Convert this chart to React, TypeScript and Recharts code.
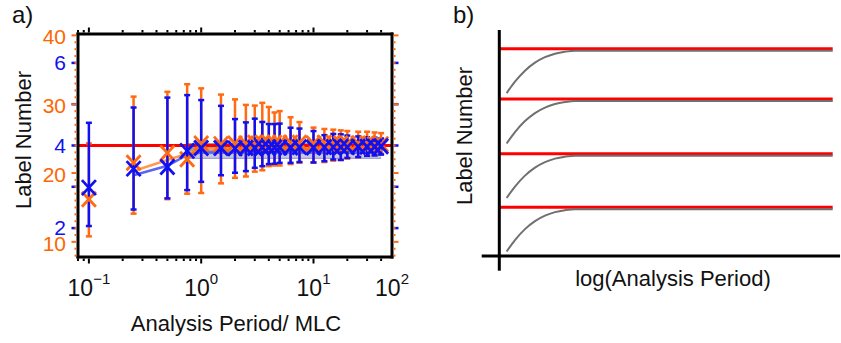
import {
  ComposedChart,
  Scatter,
  ErrorBar,
  Area,
  Line,
  XAxis,
  YAxis,
  ReferenceLine,
} from "recharts";

const FONT = '"Liberation Sans", Arial, Helvetica, sans-serif';
const ORANGE = "#ff6a13";
const ORANGE_TXT = "#ff6600";
const BLUE = "#1010f0";
const RED = "#ff0000";
const INK = "#111";

// ---------- panel a data ----------
const PERIODS = [0.1, 0.25, 0.5, 0.75, 1, 1.5, 2, 2.5, 3, 3.5, 4, 4.5, 5, 6.25, 7.5, 10, 12.5, 15, 17.5, 20, 25, 30, 35, 40];

// orange series (outer scale, 10..40)
const ORANGE_MEAN = [16.2, 21.5, 22.9, 22.0, 24.3, 24.2, 24.3, 24.3, 24.4, 24.4, 24.4, 24.4, 24.4, 24.4, 24.4, 24.3, 24.4, 24.4, 24.3, 24.3, 24.3, 24.3, 24.2, 24.2];
const ORANGE_LOW = [10.8, 14.1, 16.2, 17.0, 17.1, 18.5, 19.3, 19.5, 20.2, 20.4, 21.0, 21.1, 21.1, 21.3, 21.5, 21.5, 21.6, 21.8, 21.9, 22.1, 22.3, 22.5, 22.6, 22.8];
const ORANGE_HIGH = [24.3, 31.1, 31.8, 32.9, 32.3, 31.4, 30.7, 29.9, 29.8, 30.2, 29.6, 28.8, 29.0, 28.1, 27.4, 26.6, 26.4, 26.3, 26.2, 26.1, 26.0, 26.0, 25.9, 25.8];
const ORANGE_TREND = [null, 20.3, 21.9, 22.8, 23.5, 23.5, 23.5, 23.5, 23.5, 23.5, 23.5, 23.5, 23.5, 23.5, 23.5, 23.5, 23.5, 23.5, 23.5, 23.5, 23.5, 23.5, 23.5, 23.5];

// blue series (inner scale, 2..6)
const BLUE_MEAN = [2.98, 3.44, 3.48, 3.87, 3.94, 3.94, 3.93, 3.94, 3.94, 3.95, 3.95, 3.95, 3.95, 3.95, 3.96, 3.95, 3.96, 3.96, 3.96, 3.96, 3.97, 3.97, 3.97, 3.98];
const BLUE_LOW = [2.05, 2.45, 2.72, 2.92, 3.12, 3.28, 3.34, 3.38, 3.46, 3.5, 3.55, 3.56, 3.58, 3.58, 3.6, 3.59, 3.62, 3.66, 3.65, 3.7, 3.72, 3.75, 3.76, 3.78];
const BLUE_HIGH = [4.55, 4.92, 5.16, 5.22, 5.1, 4.96, 4.64, 4.56, 4.65, 4.57, 4.52, 4.52, 4.53, 4.43, 4.41, 4.35, 4.25, 4.28, 4.27, 4.24, 4.22, 4.2, 4.19, 4.17];
const BLUE_TREND = [null, 3.28, 3.51, 3.77, 3.83, 3.83, 3.83, 3.83, 3.83, 3.83, 3.83, 3.83, 3.83, 3.83, 3.83, 3.83, 3.83, 3.83, 3.83, 3.83, 3.83, 3.83, 3.83, 3.83];

// shaded bands (blue scale)
const BAND_DARK_LOW = [null, null, null, 3.8, 3.8, 3.8, 3.8, 3.8, 3.8, 3.8, 3.8, 3.8, 3.8, 3.8, 3.8, 3.8, 3.8, 3.8, 3.8, 3.8, 3.8, 3.8, 3.8, 3.8];
const BAND_DARK_HIGH = [null, null, null, 4.06, 4.06, 4.06, 4.06, 4.06, 4.06, 4.06, 4.06, 4.06, 4.06, 4.06, 4.06, 4.06, 4.06, 4.06, 4.06, 4.06, 4.06, 4.06, 4.06, 4.06];
const BAND_LIGHT_LOW = [null, null, null, 3.69, 3.69, 3.69, 3.69, 3.69, 3.69, 3.69, 3.69, 3.69, 3.69, 3.69, 3.69, 3.69, 3.69, 3.69, 3.69, 3.69, 3.69, 3.69, 3.69, 3.69];
const BAND_LIGHT_HIGH = [null, null, null, 3.83, 3.83, 3.83, 3.83, 3.83, 3.83, 3.83, 3.83, 3.83, 3.83, 3.83, 3.83, 3.83, 3.83, 3.83, 3.83, 3.83, 3.83, 3.83, 3.83, 3.83];

const TARGET = 4;

// axes
const X_DOMAIN = [0.08, 50];
const X_MAJOR = [0.1, 1, 10];
const X_MINOR = [0.08, 0.09, 0.2, 0.3, 0.4, 0.5, 0.6, 0.7, 0.8, 0.9, 2, 3, 4, 5, 6, 7, 8, 9, 20, 30, 40];
const X_LABEL_AT = [0.1, 1, 10, 50];
const X_LABEL_EXP = ["\u22121", "0", "1", "2"];
const X_TICKS = [...X_MINOR, ...X_MAJOR, 50].sort((a, b) => a - b);

const BLUE_DOMAIN = [1.3, 6.7];
const BLUE_TICKS = [2, 3, 4, 5, 6];
const BLUE_LABELS = [2, 4, 6];

const ORANGE_DOMAIN = [7.8, 40.2];
const ORANGE_TICKS = [8, 9, 10, 11, 12, 13, 14, 15, 16, 17, 18, 19, 20, 21, 22, 23, 24, 25, 26, 27, 28, 29, 30, 31, 32, 33, 34, 35, 36, 37, 38, 39, 40];
const ORANGE_LABELS = [10, 20, 30, 40];

// ---------- panel b data ----------
const B_X = [2.2, 4.7, 7.7, 10.7, 13.7, 16.7, 19.7, 22.7, 100];
const B_DROP = [0.854, 0.635, 0.423, 0.269, 0.163, 0.096, 0.058, 0.038, 0.038];
const B_LEVELS = [0.94, 1.97, 3.02, 3.99];
const B_Y_DOMAIN = [0, 4.35];

// layout
const A_W = 420;
const A_H = 343;
const A_LEFT = 78;
const A_RIGHT = 28;
const A_TOP = 34;
const A_BOTTOM = 86;
const PLOT_W = A_W - A_LEFT - A_RIGHT;
const PLOT_H = A_H - A_TOP - A_BOTTOM;

const rowsA = PERIODS.map((x, i) => ({
  x,
  om: ORANGE_MEAN[i],
  oErr: [ORANGE_MEAN[i] - ORANGE_LOW[i], ORANGE_HIGH[i] - ORANGE_MEAN[i]],
  bm: BLUE_MEAN[i],
  bErr: [BLUE_MEAN[i] - BLUE_LOW[i], BLUE_HIGH[i] - BLUE_MEAN[i]],
  oTrend: ORANGE_TREND[i],
  bTrend: BLUE_TREND[i],
  dark: BAND_DARK_LOW[i] == null ? null : [BAND_DARK_LOW[i], BAND_DARK_HIGH[i]],
  light: BAND_LIGHT_LOW[i] == null ? null : [BAND_LIGHT_LOW[i], BAND_LIGHT_HIGH[i]],
}));

const rowsB = B_X.map((x, i) => {
  const row: Record<string, number> = { x };
  B_LEVELS.forEach((lv, k) => {
    row[`c${k}`] = lv - B_DROP[i];
  });
  return row;
});

const crossShape = (color: string) => (props: any) => {
  const { cx, cy } = props;
  if (cx == null || cy == null) return <g />;
  return (
    <g>
      <line x1={cx - 7} y1={cy - 7.5} x2={cx + 7} y2={cy + 7.5} stroke={color} strokeWidth={2.8} />
      <line x1={cx - 7} y1={cy + 7.5} x2={cx + 7} y2={cy - 7.5} stroke={color} strokeWidth={2.8} />
    </g>
  );
};

const XTick = (props: any) => {
  const { x, y, payload } = props;
  const v = payload.value;
  const len = X_MAJOR.includes(v) ? 5 : X_MINOR.includes(v) ? 2.5 : 0;
  const li = X_LABEL_AT.indexOf(v);
  return (
    <g>
      {len > 0 && (
        <line x1={x} x2={x} y1={y + 1.5} y2={y + 1.5 + len} stroke="#000" strokeWidth={2} />
      )}
      {len > 0 && (
        <line x1={x} x2={x} y1={y - PLOT_H - 1.5} y2={y - PLOT_H - 1.5 - len} stroke="#000" strokeWidth={2} />
      )}
      {li >= 0 && (
        <text x={x} y={y + 39} textAnchor="middle" fontSize={23} fontFamily={FONT} fill={INK}>
          10
          <tspan dy={-12} fontSize={15}>
            {X_LABEL_EXP[li]}
          </tspan>
        </text>
      )}
    </g>
  );
};

const BlueTick = (props: any) => {
  const { x, y, payload } = props;
  const v = payload.value;
  return (
    <g>
      <line x1={x - 1.5} x2={x - 6.5} y1={y} y2={y} stroke={BLUE} strokeWidth={2.5} />
      <line x1={x + PLOT_W + 1.5} x2={x + PLOT_W + 6.5} y1={y} y2={y} stroke={BLUE} strokeWidth={2.5} />
      {BLUE_LABELS.includes(v) && (
        <text x={x - 12} y={y} dy="0.35em" textAnchor="end" fontSize={21} fontFamily={FONT} fill={BLUE}>
          {v}
        </text>
      )}
    </g>
  );
};

const OrangeTick = (props: any) => {
  const { x, y, payload } = props;
  const v = payload.value;
  const major = ORANGE_LABELS.includes(v);
  const len = major ? 5 : 2;
  return (
    <g>
      <line x1={x + 1.5} x2={x + 1.5 + len} y1={y} y2={y} stroke={ORANGE} strokeWidth={2} />
      <line x1={x - PLOT_W - 1.5} x2={x - PLOT_W - 1.5 - len} y1={y} y2={y} stroke={ORANGE} strokeWidth={2} />
      {major && (
        <text x={x - PLOT_W - 12} y={y + 1.5} dy="0.35em" textAnchor="end" fontSize={21} fontFamily={FONT} fill={ORANGE_TXT}>
          {v}
        </text>
      )}
    </g>
  );
};

const TitlesA = () => (
  <g fontFamily={FONT} fill={INK}>
    <text transform="translate(31,140) rotate(-90)" textAnchor="middle" fontSize={22}>
      Label Number
    </text>
    <text x={12} y={23} fontSize={24}>
      a)
    </text>
  </g>
);

const XTitleA = () => (
  <text x={236} y={331} textAnchor="middle" fontSize={22} fontFamily={FONT} fill={INK}>
    Analysis Period/ MLC
  </text>
);

const TitlesB = () => (
  <g fontFamily={FONT} fill={INK}>
    <text transform="translate(51.5,136) rotate(-90)" textAnchor="middle" fontSize={22}>
      Label Number
    </text>
    <text x={253} y={286} textAnchor="middle" fontSize={22}>
      log(Analysis Period)
    </text>
    <text x={33} y={23} fontSize={24}>
      b)
    </text>
  </g>
);

const boxLine = { stroke: "#000", strokeWidth: 3, strokeLinecap: "square" as const };

export default function App() {
  return (
    <div style={{ position: "absolute", left: 0, top: 0, width: 841, height: 343, display: "flex", background: "#fff" }}>
      <ComposedChart width={A_W} height={A_H} data={rowsA} margin={{ top: 0, right: 0, bottom: 0, left: 0 }}>
        <XAxis
          dataKey="x"
          type="number"
          scale="log"
          domain={X_DOMAIN}
          allowDataOverflow
          ticks={X_TICKS}
          interval={0}
          tick={XTick}
          tickLine={false}
          tickSize={0}
          tickMargin={0}
          axisLine={boxLine}
          height={A_BOTTOM}
          label={XTitleA}
        />
        <XAxis
          xAxisId="top"
          orientation="top"
          dataKey="x"
          type="number"
          scale="log"
          domain={X_DOMAIN}
          allowDataOverflow
          tick={false}
          tickLine={false}
          axisLine={boxLine}
          height={A_TOP}
        />
        <YAxis
          yAxisId="blue"
          type="number"
          domain={BLUE_DOMAIN}
          allowDataOverflow
          ticks={BLUE_TICKS}
          interval={0}
          tick={BlueTick}
          tickLine={false}
          tickSize={0}
          tickMargin={0}
          axisLine={boxLine}
          width={A_LEFT}
          label={TitlesA}
        />
        <YAxis
          yAxisId="orange"
          orientation="right"
          type="number"
          domain={ORANGE_DOMAIN}
          allowDataOverflow
          ticks={ORANGE_TICKS}
          interval={0}
          tick={OrangeTick}
          tickLine={false}
          tickSize={0}
          tickMargin={0}
          axisLine={boxLine}
          width={A_RIGHT}
        />
        <ReferenceLine yAxisId="blue" y={TARGET} stroke={RED} strokeWidth={3} />
        <Area
          yAxisId="blue"
          dataKey="light"
          stroke="#8f8fd0"
          strokeWidth={1}
          fill="#b6b6d8"
          fillOpacity={0.75}
          isAnimationActive={false}
        />
        <Area
          yAxisId="blue"
          dataKey="dark"
          stroke="none"
          fill="#8a8a8a"
          fillOpacity={0.85}
          isAnimationActive={false}
        />
        <Line
          yAxisId="orange"
          dataKey="oTrend"
          stroke="#ff9a55"
          strokeWidth={2.5}
          dot={false}
          isAnimationActive={false}
        />
        <Line
          yAxisId="blue"
          dataKey="bTrend"
          stroke="#5a66ee"
          strokeWidth={2.5}
          dot={false}
          isAnimationActive={false}
        />
        <Scatter yAxisId="orange" dataKey="om" shape={crossShape(ORANGE)} isAnimationActive={false}>
          <ErrorBar dataKey="oErr" direction="y" width={3} strokeWidth={2.5} stroke={ORANGE} />
        </Scatter>
        <Scatter yAxisId="blue" dataKey="bm" shape={crossShape(BLUE)} isAnimationActive={false}>
          <ErrorBar dataKey="bErr" direction="y" width={3} strokeWidth={2.5} stroke={BLUE} />
        </Scatter>
      </ComposedChart>

      <ComposedChart width={421} height={A_H} data={rowsB} margin={{ top: 30, right: 8.3, bottom: 87, left: 79.3 }}>
        <XAxis dataKey="x" type="number" domain={[0, 100]} hide />
        <YAxis type="number" domain={B_Y_DOMAIN} hide />
        {B_LEVELS.map((lv) => (
          <ReferenceLine key={lv} y={lv} stroke={RED} strokeWidth={3} />
        ))}
        {B_LEVELS.map((lv, k) => (
          <Line
            key={`c${k}`}
            dataKey={`c${k}`}
            type="monotone"
            stroke="#707070"
            strokeWidth={2}
            dot={false}
            isAnimationActive={false}
          />
        ))}
        <ReferenceLine
          segment={[{ x: 0, y: -0.283 }, { x: 0, y: 4.35 }]}
          stroke="#000"
          strokeWidth={3}
          ifOverflow="visible"
        />
        <ReferenceLine
          segment={[{ x: -5.28, y: 0 }, { x: 102.2, y: 0 }]}
          stroke="#000"
          strokeWidth={3}
          ifOverflow="visible"
          label={TitlesB}
        />
      </ComposedChart>
    </div>
  );
}
